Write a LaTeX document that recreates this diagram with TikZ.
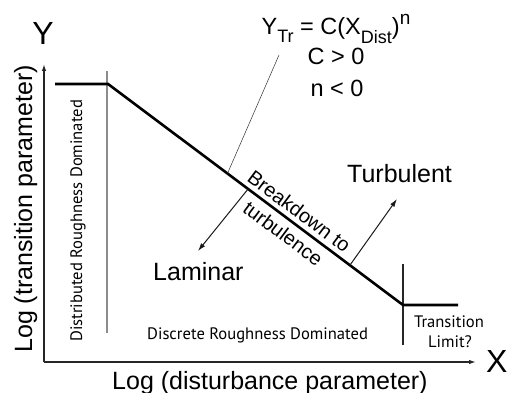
\documentclass[tikz,border=0pt]{standalone}
\usepackage{fontspec}
\setmainfont{Liberation Sans}
\newfontfamily\myr{PT Sans}
\usetikzlibrary{arrows.meta,calc}
\newcommand\lowsub[2]{\raisebox{-#1pt}{\fontsize{18}{18}\selectfont #2}}
\newcommand\hisup[1]{\raisebox{10pt}{\fontsize{19}{19}\selectfont #1}}
\tikzset{
  axis/.style={draw=black!85, line width=1.3pt, -{Latex[length=7pt,width=4.5pt]}},
  curve/.style={draw=black, line width=2.6pt},
  regionline/.style={draw=black!45, line width=1.8pt},
  limitline/.style={draw=black!85, line width=1.2pt},
  leader/.style={draw=black!80, line width=0.5pt},
  dirarrow/.style={draw=black!90, line width=1pt, -{Latex[length=8pt,width=5pt]}},
  big/.style={font=\fontsize{25}{30}\selectfont, inner sep=0pt},
  axlet/.style={font=\fontsize{32}{36}\selectfont, inner sep=0pt},
  formula/.style={font=\fontsize{23.5}{28}\selectfont, inner sep=0pt},
  small/.style={font=\myr\fontsize{16.6}{20}\selectfont, inner sep=0pt},
  slope/.style={font=\fontsize{20}{24}\selectfont, inner sep=0pt, rotate=-36.8, anchor=base},
}
\begin{document}
\begin{tikzpicture}[x=1pt,y=-1pt]
\useasboundingbox (0,0) rectangle (507,393);
% axes
\coordinate (O) at (44,362);
\coordinate (ytip) at (44,64);
\coordinate (xtip) at (476,362);
\draw[axis] (O) -- (ytip);
\draw[axis] (O) -- (xtip);
% region lines
\coordinate (g1) at (107,71);
\coordinate (g2) at (107,333);
\draw[regionline] (g1) -- (g2);
\coordinate (l1) at (403,264);
\coordinate (l2) at (403,345);
\draw[limitline] (l1) -- (l2);
% transition curve
\coordinate (p0) at (55,84);
\coordinate (c1) at (108,84);
\coordinate (c2) at (403,305);
\coordinate (p3) at (458,305);
\draw[curve, line join=miter] (p0) -- (c1) -- (c2) -- (p3);
\node[slope] (bd) at (295,217) {Breakdown to};
\node[slope] (tb) at (279,239) {turbulence};
% formula
\node[formula, anchor=base] (f1) at (336,35) {Y\lowsub{8}{Tr} = C(X\lowsub{9}{Dist})\hisup{n}};
\node[formula, anchor=base] (f2) at (336,65) {C {>} 0};
\node[formula, anchor=base] (f3) at (337,97) {n {<} 0};
\coordinate (lead0) at (279,55);
\coordinate (lead1) at ($(c1)!0.405!(c2)$);
\draw[leader] (lead0) -- (lead1);
% direction arrows
\coordinate (lam0) at ($(c1)!0.475!(c2)$);
\coordinate (lam1) at (198,251);
\draw[dirarrow] (lam0) -- (lam1);
\coordinate (tur0) at ($(c1)!0.82!(c2)$);
\coordinate (tur1) at (397,199);
\draw[dirarrow] (tur0) -- (tur1);
\node[big, anchor=base west] (lam) at (153,281) {Laminar};
\node[big, anchor=base west] (tur) at (347,183) {Turbulent};
% region labels
\node[small, anchor=base west, rotate=90] (dist) at (82,342) {Distributed Roughness Dominated};
\node[small, anchor=base west] (disc) at (147,340) {Discrete Roughness Dominated};
\node[small, anchor=base] (tl1) at (449,328) {Transition};
\node[small, anchor=base] (tl2) at (450,348) {Limit?};
% axis labels
\node[axlet, anchor=base] (Y) at (43,45) {Y};
\node[axlet, anchor=base west] (X) at (486,373) {X};
\node[big, anchor=base west, rotate=90] (ylab) at (32,353) {Log (transition parameter)};
\node[big, anchor=base west] (xlab) at (112,389) {Log (disturbance parameter)};
\end{tikzpicture}
\end{document}
